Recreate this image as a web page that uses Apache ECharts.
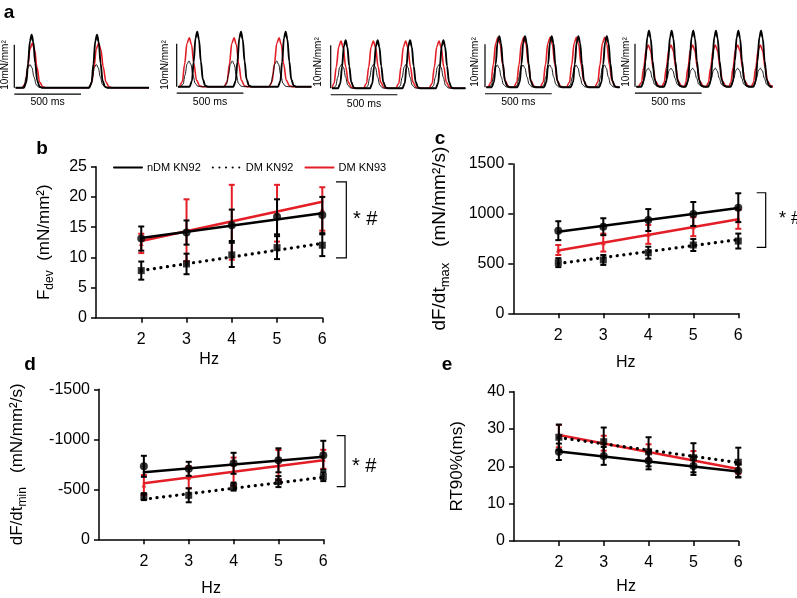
<!DOCTYPE html>
<html><head><meta charset="utf-8">
<script src="https://cdn.jsdelivr.net/npm/echarts@6/dist/echarts.min.js"></script>
<style>html,body{margin:0;padding:0;background:#fff}#c{width:797px;height:598px}</style>
</head><body><div id="c"></div>
<script>
// ---------- data ----------
const hz = [2, 3, 4, 5, 6];
const seriesNames = ['nDM KN92', 'DM KN92', 'DM KN93'];

// panel b: Fdev (mN/mm2)
const bNdmMean = [13.1, 14.1, 15.3, 16.7, 17.0];
const bNdmSem  = [2.0, 2.0, 2.6, 2.9, 3.0];
const bNdmFit  = [13.2, 17.3];
const bDm92Mean = [7.8, 8.9, 10.4, 11.6, 12.0];
const bDm92Sem  = [1.5, 1.7, 2.0, 1.9, 1.8];
const bDm92Fit  = [7.8, 12.3];
const bDm93Mean = [12.3, 14.5, 15.8, 17.3, 18.0];
const bDm93Sem  = [1.6, 5.1, 6.2, 4.7, 3.6];
const bDm93Fit  = [12.7, 19.2];
const bBracket  = [9.9, 22.5];

// panel c: dF/dt max
const cNdmMean = [830, 870, 937, 998, 1061];
const cNdmSem  = [95, 85, 110, 120, 145];
const cNdmFit  = [820, 1058];
const cDm92Mean = [509, 536, 609, 686, 726];
const cDm92Sem  = [45, 50, 60, 60, 75];
const cDm92Fit  = [500, 740];
const cDm93Mean = [636, 710, 793, 870, 944];
const cDm93Sem  = [50, 90, 95, 95, 95];
const cDm93Fit  = [630, 945];
const cBracket  = [663, 1211];

// panel d: dF/dt min
const dNdmMean = [-730, -705, -760, -790, -840];
const dNdmSem  = [105, 70, 105, 120, 145];
const dNdmFit  = [-670, -825];
const dDm92Mean = [-427, -440, -527, -577, -627];
const dDm92Sem  = [35, 70, 40, 55, 45];
const dDm92Fit  = [-400, -620];
const dDm93Mean = [-543, -620, -677, -743, -800];
const dDm93Sem  = [100, 110, 140, 150, 95];
const dDm93Fit  = [-560, -790];
const dBracket  = [-526, -1036];

// panel e: RT90%
const eNdmMean = [23.9, 22.8, 21.5, 20.1, 18.8];
const eNdmSem  = [2.2, 2.4, 2.3, 2.4, 1.8];
const eNdmFit  = [24.0, 18.6];
const eDm92Mean = [27.8, 26.6, 23.9, 22.3, 21.1];
const eDm92Sem  = [3.4, 3.8, 3.9, 3.9, 3.9];
const eDm92Fit  = [27.7, 21.0];
const eDm93Mean = [28.1, 26.2, 23.9, 22.1, 19.5];
const eDm93Sem  = [3.0, 2.0, 2.0, 2.0, 1.5];
const eDm93Fit  = [28.4, 19.3];

// panel a: twitch traces (time ms, force mN/mm2)
const aHz = [2, 3, 4, 5, 6];
const twitchT = [-58, -40, -27, -13, 0, 13, 27, 42, 60, 78];
const twitchF = [0, 0.1, 0.45, 0.88, 1, 0.86, 0.46, 0.13, 0.02, 0];
const aBlackPeaks = [[130, 620], [154, 482, 817], [112, 352, 595, 845], [107, 300, 500, 700, 913], [105, 275, 437, 607, 775, 945]];
const aRedPeaks   = [[135, 632], [94, 430, 767], [77, 320, 562, 812], [97, 290, 488, 685, 897], [100, 270, 432, 602, 770, 940]];
const aThinPeaks  = [[118, 615], [92, 417, 750], [82, 322, 565, 814], [92, 285, 485, 683, 895], [100, 270, 432, 602, 770, 940]];
const aBlackAmp = [12.3, 12.8, 11.2, 11.9, 13.0];
const aRedAmp   = [10.3, 11.4, 11.0, 11.6, 9.7];
const aThinAmp  = [5.4, 6.0, 5.6, 5.2, 4.3];
const aWidthBlack = 1.0, aWidthRed = 1.3, aWidthThin = 1.1;
const scaleForce = 10;   // mN/mm2
const scaleTime = 500;   // ms

// ---------- layout ----------
const FONT = 'Liberation Sans, Arial, sans-serif';
const RED = '#e41e26';
const grids = [], xAxes = [], yAxes = [], series = [], graphics = [];

function buildTwitch(peaks, amp, wf) {
  const pts = [[10, 0]];
  peaks.forEach(p => {
    twitchT.forEach((t, i) => {
      const x = p + t * wf;
      if (x > pts[pts.length - 1][0]) pts.push([x, amp * twitchF[i]]);
    });
  });
  pts.push([1010, 0]);
  return pts;
}

const aLeft = [14.3, 176.7, 330.7, 485, 635];
const aBase = [87.7, 86.7, 88.3, 87.3, 86.7];
const aLabelX = [5, 165, 318, 475, 626];
const aLabelY = [65, 65, 62, 62, 62];
const aMsY = [101.7, 101.7, 104, 101.7, 101.7];
const pxPerUnit = 4.3, pxPerMs = 0.1334;

aHz.forEach((f, k) => {
  const gi = grids.length;
  grids.push({left: aLeft[k], top: aBase[k] - 14 * pxPerUnit, width: 1020 * pxPerMs, height: 16.5 * pxPerUnit,
    containLabel: false, outerBoundsMode: 'none'});
  xAxes.push({gridIndex: gi, type: 'value', min: 0, max: 1020, show: false});
  yAxes.push({gridIndex: gi, type: 'value', min: -2.5, max: 14, show: false});
  const base = {type: 'line', xAxisIndex: gi, yAxisIndex: gi, symbol: 'none', smooth: 0.35, smoothMonotone: 'x', animation: false, silent: true};
  series.push(Object.assign({}, base, {data: buildTwitch(aRedPeaks[k], aRedAmp[k], aWidthRed), lineStyle: {color: RED, width: 1.6}, z: 2}));
  series.push(Object.assign({}, base, {data: buildTwitch(aThinPeaks[k], aThinAmp[k], aWidthThin), lineStyle: {color: '#000', width: 0.9}, z: 3}));
  series.push(Object.assign({}, base, {data: buildTwitch(aBlackPeaks[k], aBlackAmp[k], aWidthBlack), lineStyle: {color: '#000', width: 1.9}, z: 4}));
  // scale bars
  series.push(Object.assign({}, base, {smooth: false, data: [[0, 0], [0, scaleForce]], lineStyle: {color: '#000', width: 1.2}}));
  series.push(Object.assign({}, base, {smooth: false, data: [[0, -1.5], [scaleTime, -1.5]], lineStyle: {color: '#000', width: 1.2}}));
  graphics.push({type: 'text', x: aLeft[k] + 250 * pxPerMs, y: aMsY[k],
    style: {text: '500 ms', fontSize: 10.5, fontFamily: FONT, fill: '#000', align: 'center', verticalAlign: 'middle'}});
  graphics.push({type: 'text', x: aLabelX[k], y: aLabelY[k], rotation: Math.PI / 2,
    style: {text: '10mN/mm²', fontSize: 10, fontFamily: FONT, fill: '#000', align: 'center', verticalAlign: 'middle'}});
});

function addPanel(cfg) {
  const gi = grids.length;
  const ns = cfg.nameSize;
  grids.push({left: cfg.left, top: cfg.top, width: cfg.width, height: cfg.height, containLabel: false, outerBoundsMode: 'none'});
  xAxes.push({gridIndex: gi, type: 'value', min: 1, max: 6, interval: 1,
    axisLine: {show: true, onZero: false, lineStyle: {color: '#000', width: 1.5}},
    axisTick: {show: true, length: 5, customValues: hz, lineStyle: {color: '#000', width: 1.5}},
    axisLabel: {customValues: hz, fontSize: 16, fontFamily: FONT, color: '#000', margin: 14},
    splitLine: {show: false},
    name: 'Hz', nameLocation: 'middle', nameGap: cfg.xNameGap,
    nameTextStyle: {fontSize: 16, fontFamily: FONT, color: '#000'}});
  yAxes.push({gridIndex: gi, type: 'value', min: cfg.ymin, max: cfg.ymax, interval: cfg.yint, inverse: !!cfg.inverse,
    axisLine: {show: true, onZero: false, lineStyle: {color: '#000', width: 1.5}},
    axisTick: {show: true, length: 5, lineStyle: {color: '#000', width: 1.5}},
    axisLabel: {fontSize: 16, fontFamily: FONT, color: '#000', margin: 9, formatter: v => String(v)},
    splitLine: {show: false},
    name: cfg.yName, nameLocation: 'middle', nameGap: cfg.yNameGap, nameRotate: 90,
    nameTextStyle: {fontSize: ns, fontFamily: FONT, color: '#000',
      rich: {m: {fontSize: ns, fontFamily: FONT, color: '#000', lineHeight: ns + 7, verticalAlign: 'middle'},
             s: {fontSize: Math.round(ns * 0.7), fontFamily: FONT, color: '#000', lineHeight: Math.round(ns * 0.7), verticalAlign: 'bottom'}}}});
  const ax = {xAxisIndex: gi, yAxisIndex: gi, animation: false};
  const groups = [
    {name: seriesNames[2], mean: cfg.m93, sem: cfg.s93, fit: cfg.f93, color: RED, symbol: 'triangle', size: 5, dash: 'solid', z: 2},
    {name: seriesNames[1], mean: cfg.m92, sem: cfg.s92, fit: cfg.f92, color: '#000', symbol: 'rect', size: 7, dash: [0.1, 6.5], z: 3},
    {name: seriesNames[0], mean: cfg.mN, sem: cfg.sN, fit: cfg.fN, color: '#000', symbol: 'circle', size: 8, dash: 'solid', z: 4}
  ];
  groups.forEach(g => {
    series.push(Object.assign({type: 'line', name: g.name, data: [[hz[0], g.fit[0]], [hz[hz.length - 1], g.fit[1]]],
      symbol: 'none', lineStyle: {color: g.color, width: g.dash === 'solid' ? 2.5 : 3.2, type: g.dash, cap: 'round'},
      itemStyle: {color: g.color}, z: g.z}, ax));
    series.push(Object.assign({type: 'custom', name: g.name + ' sem', data: hz.map((h, i) => [h, g.mean[i], g.sem[i]]),
      renderItem: (params, api) => {
        const x = api.value(0), m = api.value(1), s = api.value(2);
        const t = api.coord([x, m + s]), b = api.coord([x, m - s]);
        const cw = 3, st = {stroke: g.color, lineWidth: 2};
        return {type: 'group', children: [
          {type: 'line', shape: {x1: t[0], y1: t[1], x2: b[0], y2: b[1]}, style: st},
          {type: 'line', shape: {x1: t[0] - cw, y1: t[1], x2: t[0] + cw, y2: t[1]}, style: st},
          {type: 'line', shape: {x1: b[0] - cw, y1: b[1], x2: b[0] + cw, y2: b[1]}, style: st}]};
      }, z: g.z}, ax));
    series.push(Object.assign({type: 'scatter', name: g.name + ' mean', data: hz.map((h, i) => [h, g.mean[i]]),
      symbol: g.symbol, symbolSize: g.size, itemStyle: {color: g.color}, z: g.z}, ax));
  });
  if (cfg.bracket) {
    const off = cfg.bOff;
    series.push(Object.assign({type: 'custom', name: 'bracket', clip: false,
      data: [[hz[hz.length - 1], cfg.bracket[0], cfg.bracket[1]]],
      renderItem: (params, api) => {
        const p0 = api.coord([api.value(0), api.value(1)]);
        const p1 = api.coord([api.value(0), api.value(2)]);
        const xa = p0[0] + off[0], xb = p0[0] + off[1];
        return {type: 'polyline', shape: {points: [[xa, p0[1]], [xb, p0[1]], [xb, p1[1]], [xa, p1[1]]]},
          style: {stroke: '#000', lineWidth: 1.2, fill: null}};
      }, z: 5}, ax));
  }
}

addPanel({left: 96, top: 166.7, width: 226.3, height: 151, ymin: 0, ymax: 25, yint: 5, nameSize: 17,
  yName: '{m|F}{s|dev}{m|  (mN/mm²)}', yNameGap: 40, xNameGap: 34,
  mN: bNdmMean, sN: bNdmSem, fN: bNdmFit, m92: bDm92Mean, s92: bDm92Sem, f92: bDm92Fit,
  m93: bDm93Mean, s93: bDm93Sem, f93: bDm93Fit, bracket: bBracket, bOff: [13.7, 24]});
addPanel({left: 513.3, top: 164, width: 225, height: 149.3, ymin: 0, ymax: 1500, yint: 500, nameSize: 19,
  yName: '{m|dF/dt}{s|max}{m|   (mN/mm²/s)}', yNameGap: 61, xNameGap: 41,
  mN: cNdmMean, sN: cNdmSem, fN: cNdmFit, m92: cDm92Mean, s92: cDm92Sem, f92: cDm92Fit,
  m93: cDm93Mean, s93: cDm93Sem, f93: cDm93Fit, bracket: cBracket, bOff: [18.4, 27.4]});
addPanel({left: 99, top: 389.3, width: 224.3, height: 150, ymin: -1500, ymax: 0, yint: 500, inverse: true, nameSize: 17,
  yName: '{m|dF/dt}{s|min}{m|   (mN/mm²/s)}', yNameGap: 70, xNameGap: 41,
  mN: dNdmMean, sN: dNdmSem, fN: dNdmFit, m92: dDm92Mean, s92: dDm92Sem, f92: dDm92Fit,
  m93: dDm93Mean, s93: dDm93Sem, f93: dDm93Fit, bracket: dBracket, bOff: [13.4, 21.7]});
addPanel({left: 514, top: 391.7, width: 224.3, height: 149.3, ymin: 0, ymax: 40, yint: 10, nameSize: 17,
  yName: '{m|RT90%(ms)}', yNameGap: 45, xNameGap: 38,
  mN: eNdmMean, sN: eNdmSem, fN: eNdmFit, m92: eDm92Mean, s92: eDm92Sem, f92: eDm92Fit,
  m93: eDm93Mean, s93: eDm93Sem, f93: eDm93Fit});

// panel letters and significance marks
[['a', 9, 13], ['b', 42, 149], ['c', 440, 139], ['d', 30, 365], ['e', 447, 365]].forEach(([t, x, y]) => {
  graphics.push({type: 'text', x, y, style: {text: t, fontSize: 19, fontWeight: 'bold', fontFamily: FONT, fill: '#000', align: 'center', verticalAlign: 'middle'}});
});
[[353, 219, 20], [779, 219, 18], [352, 466, 20]].forEach(([x, y, fs]) => {
  graphics.push({type: 'text', x, y, style: {text: '* #', fontSize: fs, fontFamily: FONT, fill: '#000', align: 'left', verticalAlign: 'middle'}});
});

const chart = echarts.init(document.getElementById('c'), null, {renderer: 'canvas'});
chart.setOption({
  animation: false,
  backgroundColor: '#fff',
  grid: grids, xAxis: xAxes, yAxis: yAxes, series,
  legend: {data: seriesNames, left: 108, top: 157, itemWidth: 28, itemHeight: 10, itemGap: 11, selectedMode: false,
    itemStyle: {opacity: 0},
    textStyle: {fontSize: 11, fontFamily: FONT, color: '#000'}},
  graphic: graphics
});
</script></body></html>
